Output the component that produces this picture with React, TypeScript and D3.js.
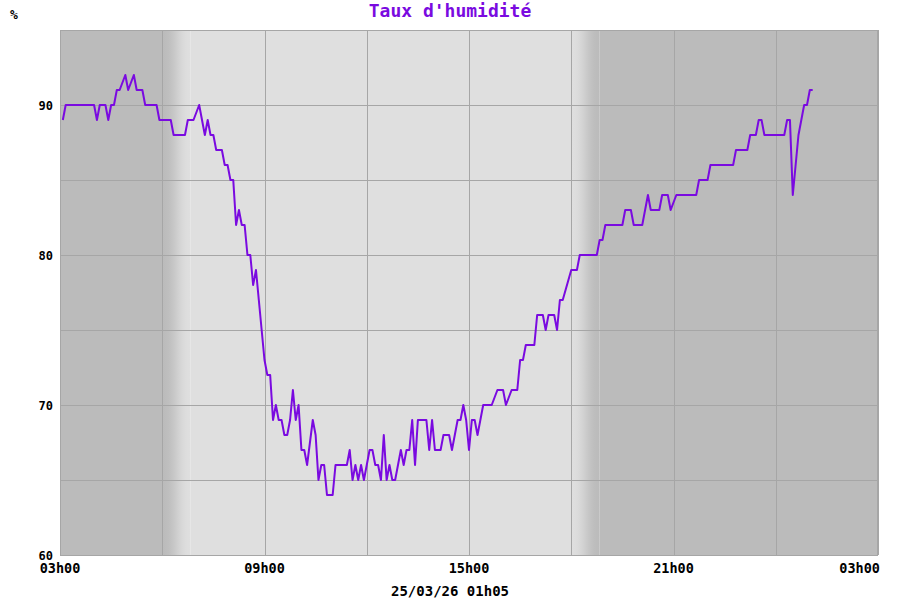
import React from "react";
import * as d3 from "d3";

// Relevés toutes les 5 min (heure locale), de 03h05 au lendemain 01h05
const times = [
  "03:05", "03:10", "04:00", "04:05", "04:10", "04:20", "04:25", "04:30", "04:35", "04:40",
  "04:45", "04:55", "05:00", "05:10", "05:15", "05:25", "05:30", "05:50", "05:55", "06:15",
  "06:20", "06:40", "06:45", "06:55", "07:05", "07:15", "07:20", "07:25", "07:30", "07:35",
  "07:45", "07:50", "07:55", "08:00", "08:05", "08:10", "08:15", "08:20", "08:25", "08:30",
  "08:35", "08:40", "08:45", "08:50", "08:55", "09:00", "09:05", "09:10", "09:15", "09:20",
  "09:25", "09:30", "09:35", "09:40", "09:45", "09:50", "09:55", "10:00", "10:05", "10:10",
  "10:15", "10:25", "10:30", "10:35", "10:40", "10:45", "10:50", "11:00", "11:05", "11:25",
  "11:30", "11:35", "11:40", "11:45", "11:50", "11:55", "12:05", "12:10", "12:15", "12:20",
  "12:25", "12:30", "12:35", "12:40", "12:45", "12:50", "13:00", "13:05", "13:10", "13:15",
  "13:20", "13:25", "13:30", "13:45", "13:50", "13:55", "14:00", "14:10", "14:15", "14:25",
  "14:30", "14:40", "14:45", "14:50", "14:55", "15:00", "15:05", "15:10", "15:15", "15:25",
  "15:40", "15:50", "16:00", "16:05", "16:15", "16:25", "16:30", "16:35", "16:40", "16:55",
  "17:00", "17:10", "17:15", "17:20", "17:30", "17:35", "17:40", "17:45", "18:00", "18:10",
  "18:15", "18:45", "18:50", "18:55", "19:00", "19:30", "19:35", "19:45", "19:50", "20:05",
  "20:15", "20:20", "20:35", "20:40", "20:50", "20:55", "21:05", "21:40", "21:45", "22:00",
  "22:05", "22:45", "22:50", "23:10", "23:15", "23:25", "23:30", "23:35", "23:40", "00:15",
  "00:20", "00:25", "00:30", "00:35", "00:40", "00:45", "00:50", "00:55", "01:00", "01:05",
];
const humidity = [
  89, 90, 90, 89, 90, 90, 89, 90, 90, 91,
  91, 92, 91, 92, 91, 91, 90, 90, 89, 89,
  88, 88, 89, 89, 90, 88, 89, 88, 88, 87,
  87, 86, 86, 85, 85, 82, 83, 82, 82, 80,
  80, 78, 79, 77, 75, 73, 72, 72, 69, 70,
  69, 69, 68, 68, 69, 71, 69, 70, 67, 67,
  66, 69, 68, 65, 66, 66, 64, 64, 66, 66,
  67, 65, 66, 65, 66, 65, 67, 67, 66, 66,
  65, 68, 65, 66, 65, 65, 67, 66, 67, 67,
  69, 66, 69, 69, 67, 69, 67, 67, 68, 68,
  67, 69, 69, 70, 69, 67, 69, 69, 68, 70,
  70, 71, 71, 70, 71, 71, 73, 73, 74, 74,
  76, 76, 75, 76, 76, 75, 77, 77, 79, 79,
  80, 80, 81, 81, 82, 82, 83, 83, 82, 82,
  84, 83, 83, 84, 84, 83, 84, 84, 85, 85,
  86, 86, 87, 87, 88, 88, 89, 89, 88, 88,
  89, 89, 84, 86, 88, 89, 90, 90, 91, 91,
];

// nuit / crépuscule
const dawn = ["06:00", "06:50"];
const dusk = ["18:00", "18:50"];

const yTicks = [60, 70, 80, 90];
const yGrid = [65, 70, 75, 80, 85, 90];

const W = 900;
const H = 600;
const margin = { top: 30, right: 22, bottom: 45, left: 60 };
const font = "'DejaVu Sans Mono', 'Liberation Mono', monospace";
const purple = "#7a0ae0";
const gridColor = "#a6a6a6";
const dark = "#bbbbbb";
const light = "#dfdfdf";

const start = new Date(2026, 2, 24, 3, 0);
const end = new Date(2026, 2, 25, 3, 0);

// "HH:MM" -> date dans la fenêtre 03h00 -> 03h00
const toDate = (s: string) => {
  const [h, m] = s.split(":").map(Number);
  const mins = (h * 60 + m - 180 + 1440) % 1440;
  return d3.timeMinute.offset(start, mins);
};

// dégradé adouci pour les transitions jour/nuit
const stops = d3.range(0, 1.0001, 0.1);
const mix = d3.interpolateRgb(dark, light);

export default function App() {
  const x = d3.scaleTime().domain([start, end]).range([margin.left, W - margin.right]);
  const y = d3.scaleLinear().domain([60, 95]).range([H - margin.bottom, margin.top]);

  const data = times.map((t, i) => ({ date: toDate(t), value: humidity[i] }));
  const line = d3
    .line<{ date: Date; value: number }>()
    .x((d) => x(d.date))
    .y((d) => y(d.value));

  const stop = d3.timeMinute.offset(end, 1);
  const gridX = d3.timeHour.range(start, stop, 3);
  const labelX = d3.timeHour.range(start, stop, 6);
  const fmt = d3.timeFormat("%Hh%M");

  const x0 = margin.left;
  const x1 = W - margin.right;
  const y0 = margin.top;
  const y1 = H - margin.bottom;

  const dawnA = x(toDate(dawn[0]));
  const dawnB = x(toDate(dawn[1]));
  const duskA = x(toDate(dusk[0]));
  const duskB = x(toDate(dusk[1]));

  return (
    <svg width={W} height={H} style={{ position: "absolute", left: 0, top: 0 }}>
      <defs>
        <linearGradient id="dawnG" x1="0" x2="1" y1="0" y2="0">
          {stops.map((t) => (
            <stop key={t} offset={t} stopColor={mix(d3.easeSinInOut(t))} />
          ))}
        </linearGradient>
        <linearGradient id="duskG" x1="0" x2="1" y1="0" y2="0">
          {stops.map((t) => (
            <stop key={t} offset={t} stopColor={mix(1 - d3.easeSinInOut(t))} />
          ))}
        </linearGradient>
      </defs>
      <rect x={0} y={0} width={W} height={H} fill="#fff" />

      {/* fond jour / nuit */}
      <rect x={x0} y={y0} width={dawnA - x0} height={y1 - y0} fill={dark} />
      <rect x={dawnA} y={y0} width={dawnB - dawnA} height={y1 - y0} fill="url(#dawnG)" />
      <rect x={dawnB} y={y0} width={duskA - dawnB} height={y1 - y0} fill={light} />
      <rect x={duskA} y={y0} width={duskB - duskA} height={y1 - y0} fill="url(#duskG)" />
      <rect x={duskB} y={y0} width={x1 - duskB} height={y1 - y0} fill={dark} />

      {/* grille */}
      {yGrid.map((v) => (
        <line key={"h" + v} x1={x0} x2={x1} y1={Math.round(y(v)) + 0.5} y2={Math.round(y(v)) + 0.5} stroke={gridColor} />
      ))}
      {gridX.map((d, i) => (
        <line key={"v" + i} x1={Math.round(x(d)) + 0.5} x2={Math.round(x(d)) + 0.5} y1={y0} y2={y1} stroke={gridColor} />
      ))}
      <rect x={x0 + 0.5} y={y0 + 0.5} width={x1 - x0 - 1} height={y1 - y0} fill="none" stroke={gridColor} />

      {/* courbe */}
      <path d={line(data) || ""} fill="none" stroke={purple} strokeWidth={2} strokeLinejoin="round" />

      {/* axes */}
      {yTicks.map((v) => (
        <text key={"yl" + v} x={53} y={y(v) + 5} textAnchor="end" fontFamily={font} fontWeight="bold" fontSize={12} fill="#000">
          {v}
        </text>
      ))}
      {labelX.map((d, i) => (
        <text
          key={"xl" + i}
          x={i === labelX.length - 1 ? x(d) + 2 : x(d)}
          y={573}
          textAnchor={i === labelX.length - 1 ? "end" : "middle"}
          fontFamily={font}
          fontWeight="bold"
          fontSize={13.5}
          fill="#000"
        >
          {fmt(d)}
        </text>
      ))}
      <text x={10} y={19} fontFamily={font} fontWeight="bold" fontSize={13} fill="#000">%</text>
      <text x={W / 2} y={17} textAnchor="middle" fontFamily={font} fontWeight="bold" fontSize={18} fill={purple}>
        Taux d'humidité
      </text>
      <text x={W / 2} y={596} textAnchor="middle" fontFamily={font} fontWeight="bold" fontSize={14} fill="#000">
        25/03/26 01h05
      </text>
    </svg>
  );
}
